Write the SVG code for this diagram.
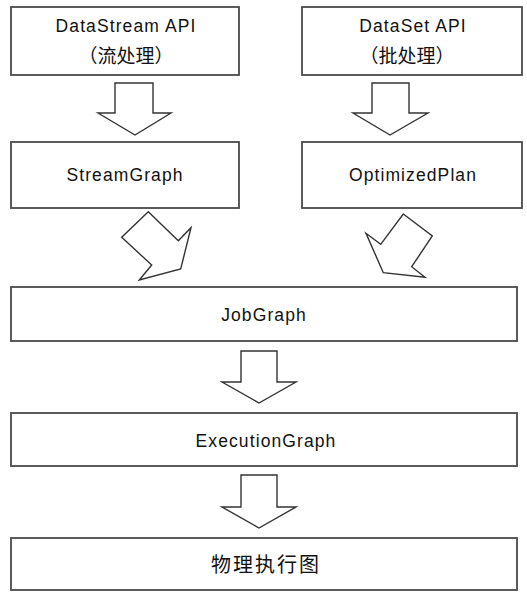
<svg xmlns="http://www.w3.org/2000/svg" width="527" height="603" viewBox="0 0 527 603">
<style>
.box{fill:#fff;stroke:#4a4a4a;stroke-width:1.8}
.arr{fill:#fff;stroke:#333;stroke-width:1.4;stroke-linejoin:miter}
text{font-family:"Liberation Sans","Noto Sans CJK SC",sans-serif;font-size:17.5px;fill:#111;text-anchor:middle;letter-spacing:1.1px}
.cjk{font-size:19px;letter-spacing:0px}
</style>
<rect width="527" height="603" fill="#fff"/>
<g id="connectors">
<polygon class="arr" points="115,83 153,83 153,113 171,113 135,135 98,113 115,113"/>
<polygon class="arr" points="372,83 409,83 409,113 428,113 390,135 353,113 372,113"/>
<polygon class="arr" points="148.3,211.7 121.7,237.3 151.7,265 139.3,280 180.7,269 191,227.7 178.3,240.7"/>
<polygon class="arr" points="403.3,214 432.3,236 411.7,266.7 425,277.3 383.3,272.7 366,233.3 380.7,244.3"/>
<polygon class="arr" points="241,351 277,351 277,382 296,382 259,403 222,382 241,382"/>
<polygon class="arr" points="241,475 277,475 277,507 296,507 259,528 222,507 241,507"/>
</g>
<g id="datastream">
<rect class="box" x="11" y="7" width="228" height="68"/>
<text x="126" y="32">DataStream API</text>
<text class="cjk" x="126" y="63">（流处理）</text>
</g>
<g id="dataset">
<rect class="box" x="302" y="7" width="220" height="68"/>
<text x="413" y="32">DataSet API</text>
<text class="cjk" x="407" y="63">（批处理）</text>
</g>
<g id="streamgraph">
<rect class="box" x="11" y="142" width="228" height="66"/>
<text x="125" y="181">StreamGraph</text>
</g>
<g id="optimizedplan">
<rect class="box" x="302" y="142" width="220" height="66"/>
<text x="413" y="181">OptimizedPlan</text>
</g>
<g id="jobgraph">
<rect class="box" x="11" y="287" width="506" height="54"/>
<text x="264" y="321">JobGraph</text>
</g>
<g id="executiongraph">
<rect class="box" x="11" y="413" width="506" height="53"/>
<text x="266" y="447">ExecutionGraph</text>
</g>
<g id="physical">
<rect class="box" x="11" y="538" width="506" height="52"/>
<text class="cjk" x="266" y="572" style="font-size:20px;letter-spacing:2px">物理执行图</text>
</g>
</svg>
